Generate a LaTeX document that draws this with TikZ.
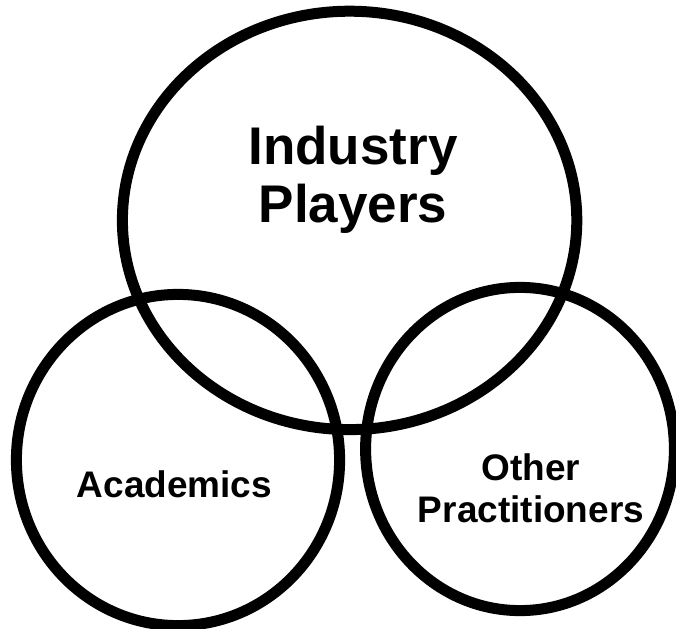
\documentclass[tikz,border=0pt]{standalone}
\usepackage{fontspec}
\setmainfont{Liberation Sans}
\usepackage{tikz}

\tikzset{
  ring/.style={line width=0.275cm},
  biglabel/.style={font=\fontsize{37.7}{41.5}\selectfont\bfseries, align=center, inner sep=0pt},
  smalllabel/.style={font=\fontsize{26.3}{29.5}\selectfont\bfseries, align=center, inner sep=0pt}
}

\begin{document}
\begin{tikzpicture}
  \useasboundingbox (0,0) rectangle (16.9,15.7);
  % --- the three sets ---
  \draw[ring] (8.74,10.19) ellipse (5.68 and 5.23);
  \draw[ring] (4.45,4.20) ellipse (4.04 and 4.14);
  \draw[ring] (13.00,4.475) ellipse (3.86 and 4.04);
  % --- labels ---
  \node[biglabel] (industry) at (8.825,11.2) {Industry\\Players};
  \node[smalllabel] (academics) at (4.36,3.6) {Academics};
  \node[smalllabel] (others) at (13.275,3.49) {Other\\Practitioners};
\end{tikzpicture}
\end{document}
